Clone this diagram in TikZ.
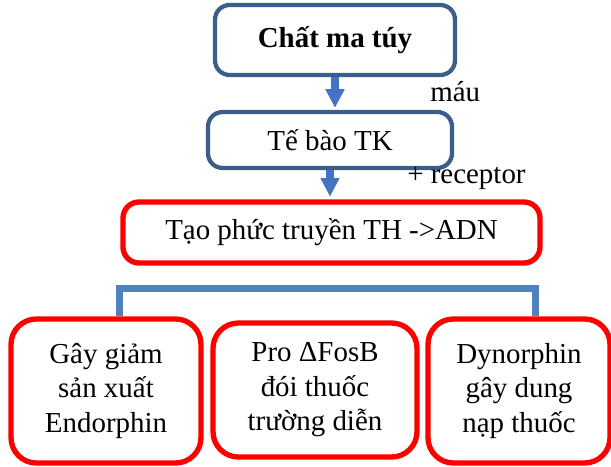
\documentclass[tikz,border=0pt]{standalone}
\usepackage{fontspec}
\setmainfont{Liberation Serif}
\usetikzlibrary{arrows.meta}

\definecolor{azulBorda}{HTML}{3A5F8B}
\definecolor{azulSeta}{HTML}{4472C4}
\definecolor{azulChave}{HTML}{4F81BD}

\begin{document}
\begin{tikzpicture}[x=0.75pt, y=-0.75pt,
    every node/.style={font=\fontsize{21.7}{25.9}\selectfont},
    caixaAzul/.style={draw=azulBorda, line width=3.2pt, rounded corners=11pt, align=center, inner sep=0pt},
    caixaVermelha/.style={draw=red, line width=4pt, rounded corners=12pt, align=center, inner sep=0pt},
    caixaFinal/.style={caixaVermelha, rounded corners=19pt, minimum height=108pt},
    rotulo/.style={inner sep=0pt, anchor=base west},
    seta/.style={azulSeta, line width=6pt, -{Triangle[width=13.5pt,length=14pt]}},
    chave/.style={azulChave, line width=5.25pt}]
    \useasboundingbox (0,0) rectangle (611,467);

    % Cadeia principal
    \node[caixaAzul, minimum width=180pt, minimum height=52.5pt, font=\fontsize{21.7}{25.9}\selectfont\bfseries] (droga) at (335,40) {Chất ma túy};
    \node[caixaAzul, minimum width=183pt, minimum height=42pt] (celula) at (330,140) {Tế bào TK};
    \node[caixaVermelha, minimum width=312.75pt, minimum height=45.75pt] (complexo) at (331.5,232.5) {Tạo phức truyền TH ->ADN};

    % Setas entre as caixas
    \draw[seta] (droga.south) -- ([yshift=1.5pt]droga.south |- celula.north);
    \draw[seta] (celula.south) -- ([yshift=2pt]celula.south |- complexo.north);
    \node[rotulo] (sangue) at (430,102) {máu};
    \node[rotulo] (receptor) at (407,184) {+ receptor};

    % Efeitos finais
    \node[caixaFinal, minimum width=142.5pt] (endorfina) at (106,391) {Gây giảm\\sản xuất\\Endorphin};
    \node[caixaFinal, minimum width=153pt, minimum height=100.5pt] (fosb) at (315,390) {Pro ΔFosB\\đói thuốc\\trường diễn};
    \node[caixaFinal, minimum width=136.5pt] (dinorfina) at (519,391) {Dynorphin\\gây dung\\nạp thuốc};

    % Chave ligando os ramos
    \coordinate (ramo) at (331,288);
    \draw[chave] ([xshift=9.75pt]endorfina.north) |- (ramo) -| ([xshift=12pt]dinorfina.north);
\end{tikzpicture}
\end{document}
